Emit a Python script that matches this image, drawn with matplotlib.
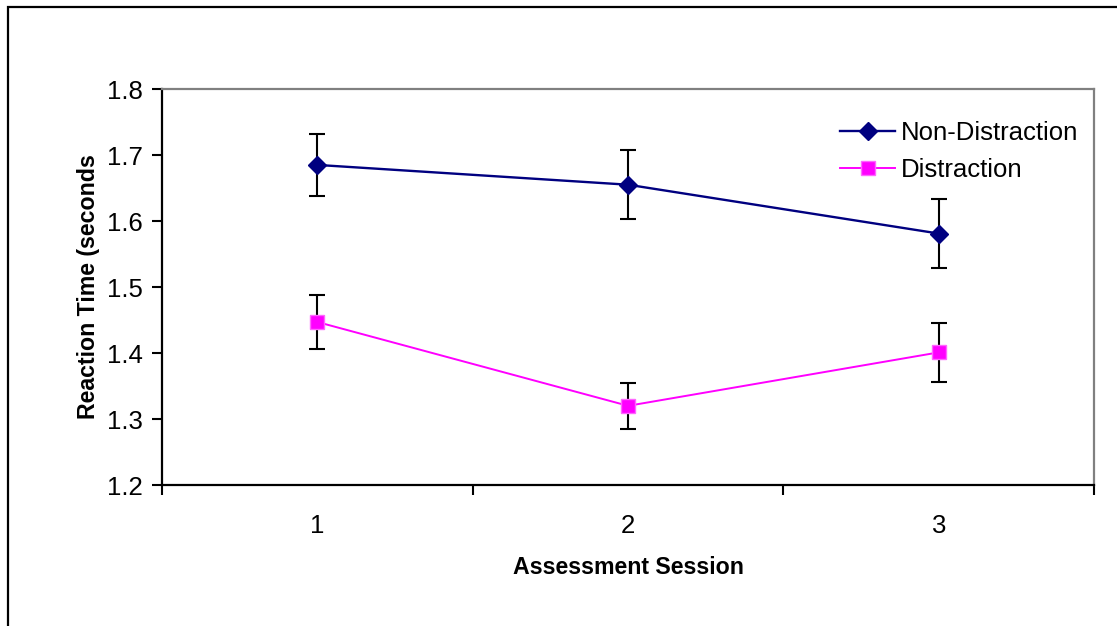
# -*- coding: utf-8 -*-
"""
Reaction time by assessment session, with and without distraction.
"""

import numpy as np
import matplotlib
matplotlib.use("Agg")
import matplotlib.pyplot as plt
from matplotlib.patches import Rectangle


# ---- data ----
sessions = ["1", "2", "3"]
non_distraction = [1.685, 1.655, 1.581]
non_distraction_err = [0.047, 0.052, 0.052]
distraction = [1.447, 1.320, 1.401]
distraction_err = [0.041, 0.035, 0.045]


# ----------
def main():
    plt.rcParams["font.family"] = ["Liberation Sans", "DejaVu Sans"]

    fig = plt.figure(figsize=(11.17, 6.26), dpi=100)
    ax = fig.add_axes([0.145, 0.2252, 0.8346, 0.6326])

    x_pos = np.arange(1, len(sessions) + 1)

    # error bars first, then the lines with markers on top
    ax.errorbar(x_pos, non_distraction, yerr=non_distraction_err, fmt="none",
                ecolor="black", elinewidth=1.5, capsize=5.5, capthick=1.5,
                zorder=2)
    ax.errorbar(x_pos, distraction, yerr=distraction_err, fmt="none",
                ecolor="black", elinewidth=1.5, capsize=5.5, capthick=1.5,
                zorder=2)

    ax.plot(x_pos, non_distraction, color="#000080", linewidth=1.7,
            marker="D", markersize=9, markeredgecolor="#000080",
            label="Non-Distraction", zorder=3)
    ax.plot(x_pos, distraction, color="#FF00FF", linewidth=1.4,
            marker="s", markersize=9.5, markeredgecolor="#FF66FF",
            markeredgewidth=1.0, label="Distraction", zorder=3)

    # ---- axes limits and ticks ----
    ax.set_xlim(0.5, len(sessions) + 0.5)
    ax.set_ylim(1.2, 1.8)
    y_ticks = np.arange(1.2, 1.81, 0.1)
    ax.set_yticks(y_ticks)
    ax.set_yticklabels(["%.1f" % v for v in y_ticks])

    ax.set_xticks(np.arange(0.5, len(sessions) + 1, 1.0))
    ax.set_xticklabels([])
    ax.set_xticks(x_pos, minor=True)
    ax.set_xticklabels(sessions, minor=True)

    ax.tick_params(axis="y", which="major", direction="out", length=7,
                   width=1.5, pad=7, labelsize=18.5)
    ax.tick_params(axis="x", which="major", direction="out", length=7,
                   width=1.5)
    ax.tick_params(axis="x", which="minor", length=0, pad=21, labelsize=18.5)

    # ---- plot area border ----
    ax.spines["left"].set_color("black")
    ax.spines["bottom"].set_color("black")
    ax.spines["top"].set_color("#808080")
    ax.spines["right"].set_color("#808080")
    for the_spine in ax.spines.values():
        the_spine.set_linewidth(1.6)

    # ---- labels ----
    ax.set_xlabel("Assessment Session", fontsize=16.7, fontweight="bold",
                  labelpad=13)
    ax.set_ylabel("Reaction Time (seconds", fontsize=16.7,
                  fontweight="bold", labelpad=5)

    # ---- legend ----
    ax.legend(loc="upper left", bbox_to_anchor=(0.7275, 0.92),
              frameon=False, fontsize=18.5, handlelength=2.14,
              handletextpad=0.23, labelspacing=0.52, borderpad=0,
              borderaxespad=0)

    # ---- outer frame (chart area border) ----
    frame = Rectangle((8 / 1117, -0.1), 1.2, 1.1 - 7 / 626,
                      transform=fig.transFigure, fill=False,
                      edgecolor="black", linewidth=1.6, clip_on=False)
    fig.patches.append(frame)

    fig.savefig("out.png", dpi=100)


# ----------
if __name__ == "__main__":
    main()
